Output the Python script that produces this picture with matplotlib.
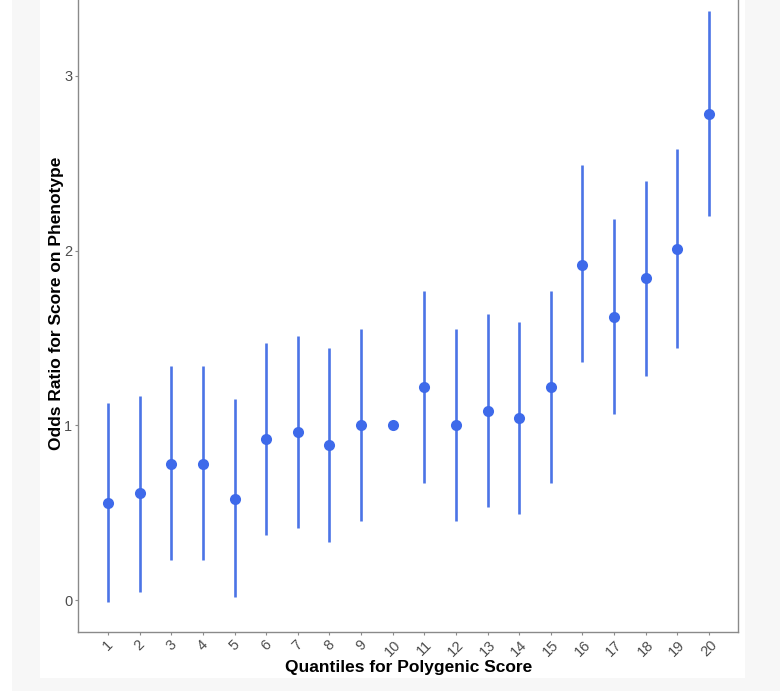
import matplotlib
matplotlib.use("Agg")
import matplotlib.pyplot as plt
from matplotlib.patches import Rectangle

quantiles = list(range(1, 21))
odds_ratio = [0.555, 0.61, 0.78, 0.78, 0.58, 0.92, 0.96, 0.885, 1.00, 1.00,
              1.22, 1.00, 1.08, 1.04, 1.22, 1.92, 1.62, 1.845, 2.01, 2.78]
ci_low = [-0.01, 0.046, 0.23, 0.23, 0.02, 0.37, 0.41, 0.33, 0.45, 1.00,
          0.67, 0.45, 0.53, 0.49, 0.67, 1.36, 1.065, 1.28, 1.44, 2.20]
ci_high = [1.13, 1.17, 1.34, 1.34, 1.15, 1.47, 1.51, 1.44, 1.55, 1.00,
           1.77, 1.55, 1.635, 1.59, 1.77, 2.49, 2.18, 2.40, 2.58, 3.37]
y_ticks = [0, 1, 2, 3]

plt.rcParams['font.family'] = ['Liberation Sans', 'DejaVu Sans']

fig = plt.figure(figsize=(7.8, 6.91), dpi=100)
fig.patch.set_facecolor('white')
# subtle light-gray surround
fig.patches.append(Rectangle((12/780, 0), 28/780, 1, transform=fig.transFigure,
                             facecolor='#f7f7f7', edgecolor='none', zorder=-10))
fig.patches.append(Rectangle((12/780, 0), 1 - 12/780, (691-678)/691, transform=fig.transFigure,
                             facecolor='#f7f7f7', edgecolor='none', zorder=-10))
fig.patches.append(Rectangle((745/780, 0), 35/780, 1, transform=fig.transFigure,
                             facecolor='#f7f7f7', edgecolor='none', zorder=-10))

ax = fig.add_axes([78/780, (691-632)/691, (738-78)/780, 632/691])
ax.set_facecolor('white')

line_color = '#4B74E6'
pt_color = '#3E6AEA'
ax.vlines(quantiles, ci_low, ci_high, color=line_color, linewidth=1.9, zorder=2)
ax.plot(quantiles, odds_ratio, 'o', color=pt_color, markersize=8,
        markeredgewidth=0, zorder=3)

ax.set_xlim(0.05, 20.92)
ax.set_ylim(-0.183, 3.435)
ax.set_xticks(quantiles)
ax.set_xticklabels([str(q) for q in quantiles], rotation=45, ha='center', va='top')
ax.set_yticks(y_ticks)
ax.set_yticklabels([str(v) for v in y_ticks])

for s in ['left', 'bottom', 'right']:
    ax.spines[s].set_color('#8a8a8a')
    ax.spines[s].set_linewidth(1.0)
ax.spines['top'].set_visible(False)

ax.tick_params(axis='both', colors='#8a8a8a', length=2.5, width=0.8,
               labelcolor='#4d4d4d', labelsize=10.5, pad=1.5)

ax.set_xlabel('Quantiles for Polygenic Score', fontsize=12.5, fontweight='bold',
              color='black')
ax.set_ylabel('Odds Ratio for Score on Phenotype', fontsize=12.5, fontweight='bold',
              color='black')
ax.xaxis.set_label_coords(0.5008, -0.044)
ax.yaxis.set_label_coords(-0.021, 0.52)

fig.savefig('out.png', dpi=100, facecolor=fig.get_facecolor())
